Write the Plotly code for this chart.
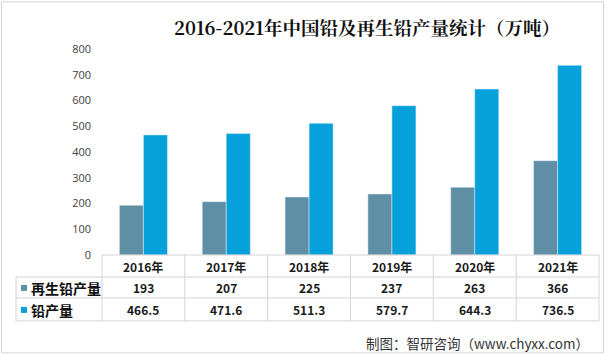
import plotly.graph_objects as go

years = ["2016年", "2017年", "2018年", "2019年", "2020年", "2021年"]
recycled = [193, 207, 225, 237, 263, 366]
lead = [466.5, 471.6, 511.3, 579.7, 644.3, 736.5]
recycled_labels = ["193", "207", "225", "237", "263", "366"]
lead_labels = ["466.5", "471.6", "511.3", "579.7", "644.3", "736.5"]
series_names = ["再生铅产量", "铅产量"]
colors = ["#5F8FA5", "#06A1DB"]
y_ticks = [0, 100, 200, 300, 400, 500, 600, 700, 800]

W, H = 607, 359
L, R, T, B = 102, 8, 48.7, 104
PH = H - T - B
PW = W - L - R

def py(p):
    return (H - B - p) / PH

def px(p):
    return (p - L) / PW

fig = go.Figure()
fig.add_bar(x=years, y=recycled, name=series_names[0], marker_color=colors[0])
fig.add_bar(x=years, y=lead, name=series_names[1], marker_color=colors[1])

font_cjk = "Noto Sans CJK SC, Microsoft YaHei, sans-serif"
grid = "#D4D4D4"
shapes = []
# table horizontal lines
shapes.append(dict(type="line", xref="paper", yref="paper", x0=0, x1=1, y0=0, y1=0, line=dict(color=grid, width=1)))
for yy in [277, 298, 321]:
    shapes.append(dict(type="line", xref="paper", yref="paper", x0=px(16), x1=1, y0=py(yy), y1=py(yy), line=dict(color=grid, width=1)))
# vertical lines
n = len(years)
for i in range(n + 1):
    shapes.append(dict(type="line", xref="paper", yref="paper", x0=i / n, x1=i / n, y0=0, y1=py(321), line=dict(color=grid, width=1)))
shapes.append(dict(type="line", xref="paper", yref="paper", x0=px(16), x1=px(16), y0=py(277), y1=py(321), line=dict(color=grid, width=1)))
# legend keys
for c, yc in zip(colors, [288, 310]):
    shapes.append(dict(type="rect", xref="paper", yref="paper", x0=px(21), x1=px(27), y0=py(yc - 3), y1=py(yc + 3), fillcolor=c, line=dict(width=0)))
# outer border
shapes.append(dict(type="rect", xref="paper", yref="paper", x0=px(1.5), x1=px(603.5), y0=py(1.5), y1=py(353), line=dict(color=grid, width=1)))

ann = []
for i, yr in enumerate(years):
    ann.append(dict(x=yr, y=py(266.5), xref="x", yref="paper", text=yr, showarrow=False, yanchor="middle",
                    font=dict(family=font_cjk, size=12, color="#1a1a1a", weight="bold")))
    ann.append(dict(x=yr, y=py(288), xref="x", yref="paper", text=recycled_labels[i], showarrow=False, yanchor="middle",
                    font=dict(family=font_cjk, size=12, color="#1a1a1a", weight="bold")))
    ann.append(dict(x=yr, y=py(310), xref="x", yref="paper", text=lead_labels[i], showarrow=False, yanchor="middle",
                    font=dict(family=font_cjk, size=12, color="#1a1a1a", weight="bold")))
for nm, yc in zip(series_names, [288, 310]):
    ann.append(dict(x=px(29), y=py(yc), xref="paper", yref="paper", text=nm, showarrow=False, xanchor="left",
                    yanchor="middle", font=dict(family=font_cjk, size=14, color="#111", weight="bold")))
ann.append(dict(x=px(591), y=py(343), xref="paper", yref="paper", text="制图：智研咨询（www.chyxx.com）",
                showarrow=False, xanchor="right", yanchor="middle",
                font=dict(family=font_cjk, size=13.5, color="#333")))

fig.update_layout(
    width=W, height=H,
    margin=dict(l=L, r=R, t=T, b=B, autoexpand=False),
    paper_bgcolor="white", plot_bgcolor="white",
    barmode="group", bargap=0.42, bargroupgap=0,
    showlegend=False,
    title=dict(text="2016-2021年中国铅及再生铅产量统计（万吨）", x=367 / W, xanchor="center",
               y=1 - 29 / H, yanchor="middle",
               font=dict(family="Noto Serif CJK SC, Noto Sans CJK SC, serif", size=18.5, color="#111", weight="bold")),
    xaxis=dict(showticklabels=False, showgrid=False, zeroline=False, showline=False, ticks=""),
    yaxis=dict(range=[0, 800], tickvals=y_ticks, showgrid=False, zeroline=False, showline=False,
               ticks="", ticklabelstandoff=10,
               tickfont=dict(family="Open Sans, Noto Sans, sans-serif", size=11, color="#404040")),
    shapes=shapes, annotations=ann,
)
fig.write_html("out.html", config={"displayModeBar": False},
               post_script="document.body.style.margin='0';document.body.style.overflow='hidden';")
